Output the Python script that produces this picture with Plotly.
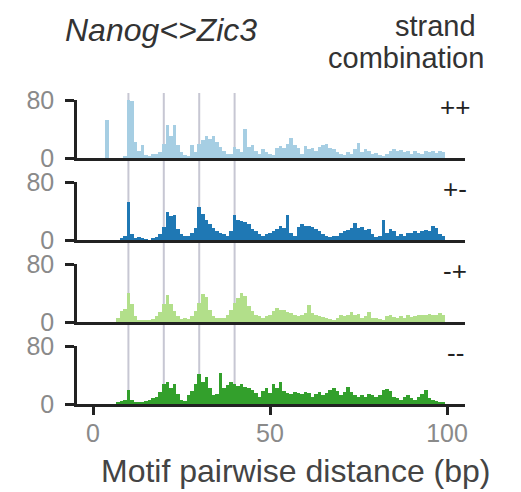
import plotly.graph_objects as go

W, H = 521, 492

distance = list(range(0, 101))

counts_pp = [0, 0, 0, 0, 52, 0, 0, 0, 0, 3,
             84, 78, 22, 10, 18, 4, 3, 5, 6, 8,
             20, 46, 30, 46, 18, 8, 4, 3, 18, 8,
             20, 25, 30, 26, 30, 22, 15, 10, 6, 5,
             15, 12, 8, 40, 15, 18, 10, 6, 12, 8,
             5, 4, 14, 16, 14, 20, 27, 18, 14, 5,
             16, 12, 14, 10, 15, 18, 20, 14, 12, 8,
             6, 4, 8, 6, 12, 21, 8, 12, 10, 5,
             7, 4, 3, 5, 10, 12, 10, 11, 8, 10,
             6, 9, 7, 6, 10, 8, 9, 7, 9, 8, 0]

counts_pm = [0, 0, 0, 0, 0, 0, 0, 0, 2, 6,
             52, 8, 3, 4, 2, 1, 0, 2, 4, 8,
             18, 38, 33, 34, 15, 8, 5, 6, 10, 16,
             45, 36, 28, 22, 16, 12, 10, 8, 5, 12,
             34, 28, 26, 25, 22, 15, 12, 8, 6, 8,
             10, 12, 15, 20, 16, 35, 10, 6, 18, 22,
             20, 19, 18, 15, 12, 8, 6, 4, 6, 5,
             10, 12, 14, 16, 24, 16, 18, 14, 15, 8,
             4, 6, 28, 10, 15, 12, 6, 8, 5, 10,
             10, 12, 10, 12, 14, 13, 20, 16, 8, 5, 0]

counts_mp = [0, 0, 0, 0, 0, 0, 0, 5, 15, 18,
             40, 25, 8, 3, 2, 2, 2, 4, 8, 14,
             25, 37, 25, 15, 8, 4, 5, 4, 8, 15,
             26, 38, 34, 16, 8, 6, 5, 6, 10, 16,
             26, 33, 40, 36, 22, 15, 10, 8, 6, 8,
             10, 15, 19, 16, 16, 14, 12, 10, 8, 10,
             12, 23, 12, 10, 8, 7, 6, 4, 3, 5,
             10, 8, 9, 14, 10, 11, 5, 8, 14, 6,
             5, 4, 3, 8, 9, 7, 5, 8, 6, 9,
             7, 8, 10, 9, 10, 11, 9, 10, 12, 10, 0]

counts_mm = [0, 0, 0, 0, 0, 0, 0, 2, 4, 6,
             20, 6, 2, 3, 2, 4, 6, 8, 10, 16,
             28, 30, 22, 28, 14, 6, 4, 12, 18, 28,
             42, 30, 37, 22, 12, 14, 43, 22, 26, 30,
             28, 25, 28, 24, 22, 20, 15, 10, 18, 22,
             15, 28, 22, 31, 18, 15, 14, 16, 15, 14,
             16, 15, 10, 14, 16, 12, 15, 20, 22, 18,
             12, 16, 24, 16, 12, 10, 12, 10, 14, 12,
             10, 12, 20, 21, 18, 10, 8, 6, 10, 12,
             8, 6, 10, 14, 19, 8, 6, 4, 3, 2, 0]

strands = ["++", "+-", "-+", "--"]
series = [counts_pp, counts_pm, counts_mp, counts_mm]
colors = ["#a6cee3", "#1f78b4", "#b2df8a", "#33a02c"]

ref_lines = [10, 20, 30, 40]
y_ticks = [0, 80]
x_ticks = [0, 50, 100]

# layout geometry (pixels)
x_left, x_right = 77, 465
x_range = [-4.52, 105.08]
panel_bottoms = [158, 240, 322, 404]
panel_h = 58

def py(p):
    return 1 - p / H

fig = go.Figure()
layout = dict(
    width=W, height=H, autosize=False,
    margin=dict(l=0, r=0, t=0, b=0, pad=0, autoexpand=False),
    paper_bgcolor="white",
    plot_bgcolor="rgba(0,0,0,0)",
    showlegend=False,
    bargap=0,
    font=dict(family="Liberation Sans, Arial, sans-serif"),
)

annotations = []
for i, (name, vals, col) in enumerate(zip(strands, series, colors)):
    k = "" if i == 0 else str(i + 1)
    fig.add_trace(go.Bar(
        x=distance, y=vals, width=1,
        marker=dict(color=col, line=dict(width=0)),
        xaxis="x" + k, yaxis="y" + k, cliponaxis=False,
    ))
    b = panel_bottoms[i]
    last = (i == 3)
    layout["xaxis" + k] = dict(
        domain=[x_left / W, x_right / W], range=x_range,
        anchor="y" + k, automargin=False,
        showline=True, linewidth=2.5, linecolor="#222",
        showgrid=False, zeroline=False,
        tickvals=x_ticks if last else [],
        showticklabels=last,
        ticks="outside" if last else "",
        ticklen=8, tickwidth=2.5, tickcolor="#222",
        ticklabelstandoff=-3,
        tickfont=dict(size=25, color="#8a8a8a"),
    )
    layout["yaxis" + k] = dict(
        domain=[py(b), py(b - panel_h)], range=[0, 80],
        anchor="x" + k, automargin=False,
        showline=True, linewidth=2.5, linecolor="#222",
        showgrid=False, zeroline=False,
        tickvals=y_ticks, ticks="outside", ticklen=9,
        tickwidth=2.5, tickcolor="#222",
        ticklabelstandoff=6,
        tickfont=dict(size=25, color="#8a8a8a"),
    )
    annotations.append(dict(
        text=name, xref="paper", yref="paper",
        x=455 / W, y=py(b - panel_h + 7), showarrow=False,
        xanchor="center", yanchor="middle",
        font=dict(size=26, color="#222"),
    ))

annotations += [
    dict(text="<i>Nanog<>Zic3</i>", xref="paper", yref="paper",
         x=161 / W, y=py(30), showarrow=False, xanchor="center",
         yanchor="middle", font=dict(size=32, color="#333")),
    dict(text="strand", xref="paper", yref="paper",
         x=478 / W, y=py(26), showarrow=False, xanchor="right",
         yanchor="middle", font=dict(size=29, color="#333")),
    dict(text="combination", xref="paper", yref="paper",
         x=486 / W, y=py(58), showarrow=False, xanchor="right",
         yanchor="middle", font=dict(size=29, color="#333")),
    dict(text="Motif pairwise distance (bp)", xref="paper", yref="paper",
         x=295 / W, y=py(491), showarrow=False, xanchor="center",
         yanchor="bottom", font=dict(size=32, color="#444")),
]
layout["annotations"] = annotations

layout["shapes"] = [
    dict(type="line", xref="x", yref="paper", x0=v, x1=v,
         y0=py(403), y1=py(93), layer="below",
         line=dict(color="rgba(185,185,200,0.8)", width=2))
    for v in ref_lines
]

fig.update_layout(**layout)
fig.write_html("out.html")
